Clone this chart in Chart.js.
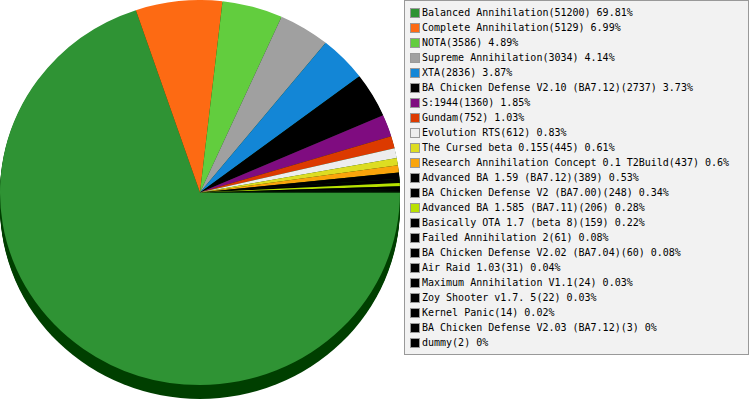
<!DOCTYPE html>
<html lang="en">
<head>
    <meta charset="UTF-8">
    <title>Mod usage</title>
    <script src="https://cdn.jsdelivr.net/npm/chart.js"></script>
    <style>
        body { margin: 0; background: #fff; }
        .wrap { position: relative; width: 749px; height: 400px; }
        #pie { position: absolute; left: 0; top: 0; }
        #legend {
            position: absolute; left: 404px; top: 0;
            width: 343px; height: 353px;
            background: #f2f2f2; border: 1px solid #999;
            padding-top: 4px; box-sizing: border-box; height: 355px; width: 345px;
            font-family: "DejaVu Sans Mono", monospace; font-size: 10px; color: #000;
        }
        .row { height: 15px; line-height: 15px; white-space: nowrap; display: flex; align-items: center; }
        .sw { width: 8px; height: 8px; border: 1px solid #999; margin: 0 2px 0 5px; flex: none; }
    </style>
</head>
<body>
<div class="wrap">
    <canvas id="pie" width="400" height="400"></canvas>
    <div id="legend"></div>
</div>

<script>
// mods and game counts, in drawing order
const mods = [
    'Balanced Annihilation', 'Complete Annihilation', 'NOTA', 'Supreme Annihilation', 'XTA',
    'BA Chicken Defense V2.10 (BA7.12)', 'S:1944', 'Gundam', 'Evolution RTS', 'The Cursed beta 0.155',
    'Research Annihilation Concept 0.1 T2Build', 'Advanced BA 1.59 (BA7.12)', 'BA Chicken Defense V2 (BA7.00)',
    'Advanced BA 1.585 (BA7.11)', 'Basically OTA 1.7 (beta 8)', 'Failed Annihilation 2',
    'BA Chicken Defense V2.02 (BA7.04)', 'Air Raid 1.03', 'Maximum Annihilation V1.1', 'Zoy Shooter v1.7. 5',
    'Kernel Panic', 'BA Chicken Defense V2.03 (BA7.12)', 'dummy'
];
const games = [51200, 5129, 3586, 3034, 2836, 2737, 1360, 752, 612, 445, 437, 389, 248, 206, 159, 61, 60, 31, 24, 22, 14, 3, 2];
const percents = ['69.81', '6.99', '4.89', '4.14', '3.87', '3.73', '1.85', '1.03', '0.83', '0.61', '0.6', '0.53',
    '0.34', '0.28', '0.22', '0.08', '0.08', '0.04', '0.03', '0.03', '0.02', '0', '0'];
const colors = ['#2f9334', '#fd6a13', '#62cd3e', '#a0a0a0', '#1386d6', '#000000', '#7f0c80', '#dc3a00', '#ededed',
    '#dddd22', '#f9a40b', '#000000', '#000000', '#b9e000', '#000000', '#000000', '#000000', '#000000', '#000000',
    '#000000', '#000000', '#000000', '#000000'];

// flatten the pie a little and give it a dark rim underneath
const tilt = {
    id: 'tilt',
    beforeDatasetsDraw(chart) {
        const arc = chart.getDatasetMeta(0).data[0];
        const ctx = chart.ctx;
        const k = 0.9625;
        const depth = 14;
        ctx.save();
        ctx.translate(0, arc.outerRadius * k);
        ctx.scale(1, k);
        ctx.translate(0, -arc.y);
        ctx.fillStyle = '#003f00';
        for (let d = 1; d <= depth; d++) {
            ctx.beginPath();
            ctx.arc(arc.x, arc.y + d / k, arc.outerRadius, 0, Math.PI * 2);
            ctx.fill();
        }
    },
    afterDatasetsDraw(chart) {
        chart.ctx.restore();
    }
};

new Chart(document.getElementById('pie'), {
    type: 'pie',
    data: {
        labels: mods,
        datasets: [{
            data: games,
            backgroundColor: colors,
            borderWidth: 0
        }]
    },
    options: {
        responsive: false,
        animation: false,
        rotation: 90,
        layout: { padding: 0 },
        plugins: {
            legend: { display: false },
            tooltip: { enabled: false }
        }
    },
    plugins: [tilt]
});

const legend = document.getElementById('legend');
mods.forEach((m, i) => {
    const row = document.createElement('div');
    row.className = 'row';
    const sw = document.createElement('span');
    sw.className = 'sw';
    sw.style.background = colors[i];
    const txt = document.createElement('span');
    txt.textContent = m + '(' + games[i] + ') ' + percents[i] + '%';
    row.appendChild(sw);
    row.appendChild(txt);
    legend.appendChild(row);
});
</script>
</body>
</html>
